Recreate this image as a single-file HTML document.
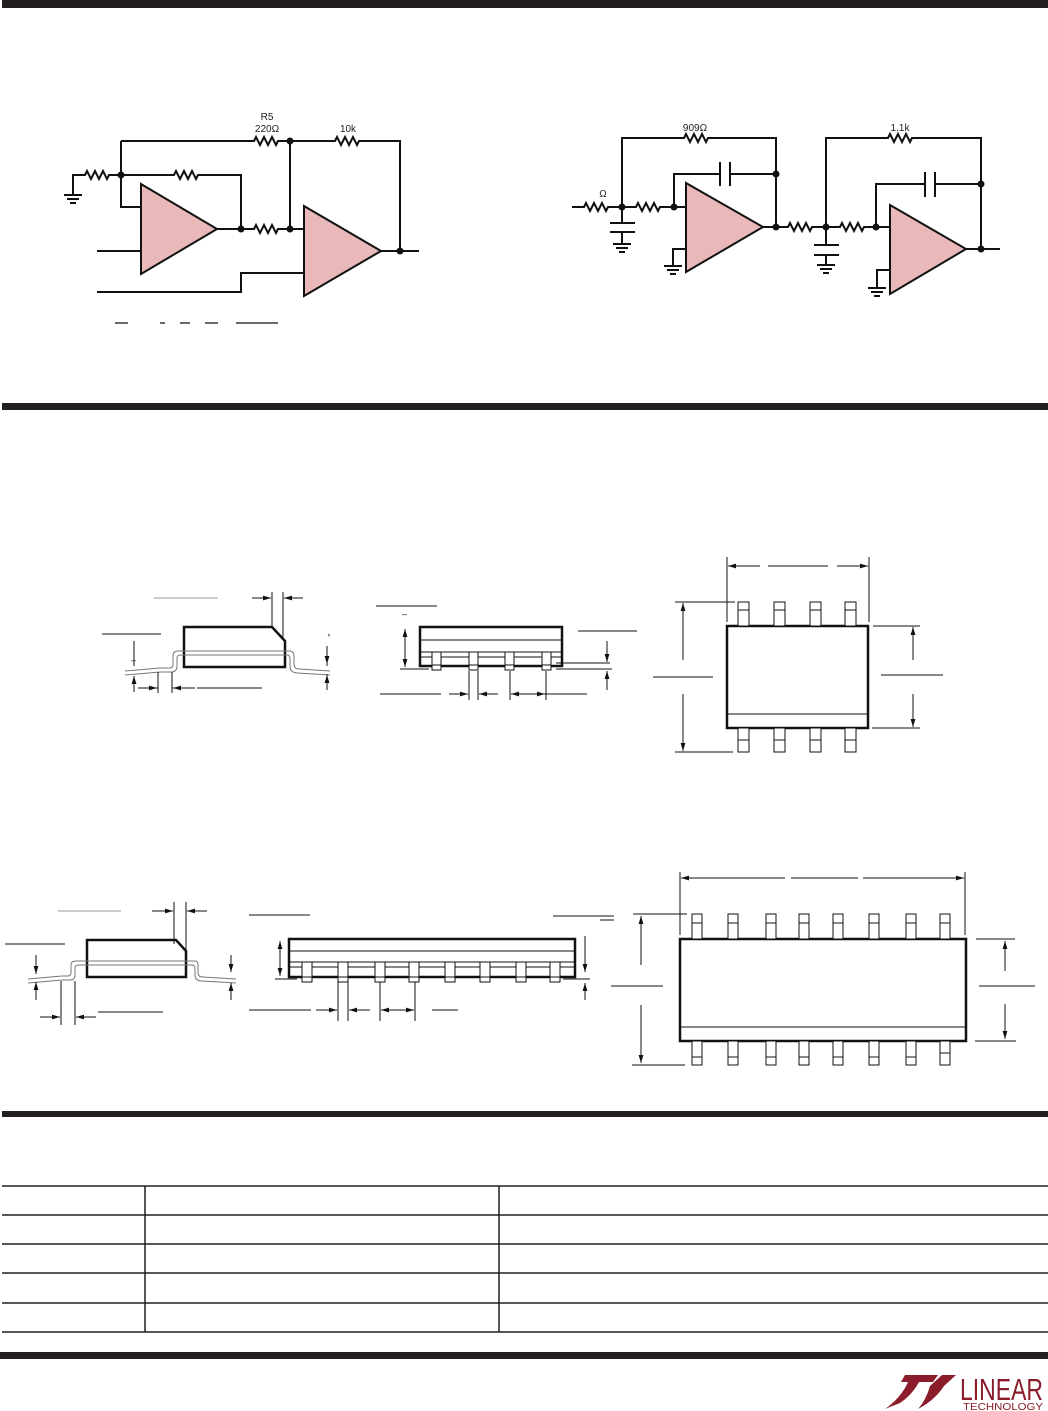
<!DOCTYPE html>
<html><head><meta charset="utf-8"><style>
html,body{margin:0;padding:0;background:#fff}
svg{display:block}
text{font-family:"Liberation Sans",sans-serif;fill:#222}
</style></head><body>
<svg width="1048" height="1411" viewBox="0 0 1048 1411" xmlns="http://www.w3.org/2000/svg">
<defs>
<marker id="a" viewBox="0 0 10 10" refX="10" refY="5" markerWidth="8" markerHeight="8" orient="auto-start-reverse"><path d="M0 2 L10 5 L0 8 z" fill="#111"/></marker>
</defs>
<!-- bars -->
<rect x="2" y="0" width="1046" height="8" fill="#231f20"/>
<rect x="2" y="403" width="1046" height="7" fill="#231f20"/>
<rect x="2" y="1111" width="1046" height="6" fill="#231f20"/>
<rect x="0" y="1352" width="1048" height="7" fill="#231f20"/>

<!-- Circuit 1 -->
<g stroke="#111" stroke-width="2" fill="none">
<path d="M121 141 H254 l2 -4 l4 8 l4 -8 l4 8 l4 -8 l4 8 l2 -4 H335 l2 -4 l4 8 l4 -8 l4 8 l4 -8 l4 8 l2 -4 H400 V251"/>
<path d="M73 194 V175 H85 l2 -4 l4 8 l4 -8 l4 8 l4 -8 l4 8 l2 -4 H174 l2 -4 l4 8 l4 -8 l4 8 l4 -8 l4 8 l2 -4 H241 V229"/>
<path d="M64 195 h18 M67 199 h12 M70 203 h6"/>
<path d="M121 141 V207 H141"/>
<path d="M217 229 H254 l2 -4 l4 8 l4 -8 l4 8 l4 -8 l4 8 l2 -4 H304"/>
<path d="M290 141 V229"/>
<path d="M97 251 H141"/>
<path d="M97 292 H241 V273 H304"/>
<path d="M381 251 H419"/>
</g>
<polygon points="141,184 141,274 217,229" fill="#e8b9b8" stroke="#111" stroke-width="2"/>
<polygon points="304,206 304,296 381,251" fill="#e8b9b8" stroke="#111" stroke-width="2"/>
<g fill="#111"><circle cx="121" cy="175" r="3.5"/><circle cx="290" cy="141" r="3.5"/><circle cx="241" cy="229" r="3.5"/><circle cx="290" cy="229" r="3.5"/><circle cx="400" cy="251" r="3.5"/></g>
<g stroke="#111" stroke-width="1.2"><path d="M115 323h13 M160 323h5 M180 323h10 M205 323h13 M236 323h42"/></g>
<text x="267" y="120" font-size="10" text-anchor="middle">R5</text>
<text x="267" y="132" font-size="10" text-anchor="middle">220Ω</text>
<text x="348" y="132" font-size="10" text-anchor="middle">10k</text>

<!-- Circuit 2 -->
<g stroke="#111" stroke-width="2" fill="none">
<path d="M572 207 H584 l2 -4 l4 8 l4 -8 l4 8 l4 -8 l4 8 l2 -4 H636 l2 -4 l4 8 l4 -8 l4 8 l4 -8 l4 8 l2 -4 H686"/>
<path d="M622 207 V138 H684 l2 -4 l4 8 l4 -8 l4 8 l4 -8 l4 8 l2 -4 H776 V227"/>
<path d="M622 207 V223 M610 223 h25 M610 232 h25 M622 232 V244 M613 244 h18 M616 248 h12 M619 252 h6"/>
<path d="M674 207 V174 H720 M720 162 V186 M730 162 V186 M730 174 H776"/>
<path d="M763 227 H788 l2 -4 l4 8 l4 -8 l4 8 l4 -8 l4 8 l2 -4 H840 l2 -4 l4 8 l4 -8 l4 8 l4 -8 l4 8 l2 -4 H890"/>
<path d="M686 249 H673 V266 M664 266 h18 M667 270 h12 M670 274 h6"/>
<path d="M826 227 V138 H888 l2 -4 l4 8 l4 -8 l4 8 l4 -8 l4 8 l2 -4 H981 V249"/>
<path d="M826 227 V245 M814 245 h25 M814 255 h25 M826 255 V265 M817 265 h18 M820 269 h12 M823 273 h6"/>
<path d="M876 227 V184 H925 M925 172 V197 M935 172 V197 M935 184 H981"/>
<path d="M966 249 H1000"/>
<path d="M890 270 H877 V288 M868 288 h18 M871 292 h12 M874 296 h6"/>
</g>
<polygon points="686,183 686,272 763,227" fill="#e8b9b8" stroke="#111" stroke-width="2"/>
<polygon points="890,205 890,294 966,249" fill="#e8b9b8" stroke="#111" stroke-width="2"/>
<g fill="#111"><circle cx="622" cy="207" r="3.5"/><circle cx="674" cy="207" r="3.5"/><circle cx="776" cy="174" r="3.5"/><circle cx="776" cy="227" r="3.5"/><circle cx="826" cy="227" r="3.5"/><circle cx="876" cy="227" r="3.5"/><circle cx="981" cy="184" r="3.5"/><circle cx="981" cy="249" r="3.5"/></g>
<text x="603" y="197" font-size="10" text-anchor="middle">Ω</text>
<text x="695" y="131" font-size="10" text-anchor="middle">909Ω</text>
<text x="900" y="131" font-size="10" text-anchor="middle">1.1k</text>

<!-- SO-8 side view 1 -->
<g fill="none" stroke="#111" stroke-width="1">
<path d="M154 598 H218" stroke="#999"/>
<path d="M184 627 H272 L285 641 V667 H184 Z" stroke-width="2.5"/>
<path d="M125 671 L160 668 H170 Q173 668 173 664 V656 Q173 651 178 651 H290 Q294 651 294 656 V664 Q294 669 299 669 L330 671 M125 675 L160 672 H171 Q177 672 177 666 V658 Q177 655 181 655 H287 Q290 655 290 659 V666 Q290 673 298 673 L330 675" stroke="#777"/>
<path d="M102 634 H161 M134 641 V666 M134 692 V676" />
<path d="M134 645 V664 M134 688 V676" marker-end="url(#a)"/>
<path d="M158 672 V693 M172 672 V693 M138 688 H158 M195 688 H172" />
<path d="M140 688 H157" marker-end="url(#a)"/><path d="M192 688 H173" marker-end="url(#a)"/>
<path d="M197 688 H262"/>
<path d="M272 592 V628 M283 592 V640"/>
<path d="M252 598 H271" marker-end="url(#a)"/><path d="M303 598 H284" marker-end="url(#a)"/>
<path d="M327 646 V666 M327 690 V674"/>
<path d="M327 648 V664" marker-end="url(#a)"/><path d="M327 688 V675" marker-end="url(#a)"/>
</g>
<text x="329" y="640" font-size="8" text-anchor="middle" fill="#777">°</text>
<text x="131" y="663" font-size="9">–</text>

<!-- SO-8 side view 2 -->
<g fill="none" stroke="#111" stroke-width="1">
<rect x="420" y="627" width="142" height="39" stroke-width="2.5"/>
<path d="M420 640 H562 M420 652 H562 M420 657 H562"/>
<g fill="#fff"><rect x="432" y="652" width="9" height="18"/><rect x="469" y="652" width="9" height="18"/><rect x="505" y="652" width="9" height="18"/><rect x="542" y="652" width="9" height="18"/></g>
<path d="M432 665 h9 M469 665 h9 M505 665 h9 M542 665 h9"/>
<path d="M376 606 H437 M400 669 H429"/>
<path d="M405 631 V667" marker-end="url(#a)"/><path d="M405 665 V629" marker-end="url(#a)"/>
<path d="M578 631 H637 M556 663 H610 M556 669 H612"/>
<path d="M607 641 V662" marker-end="url(#a)"/><path d="M607 690 V671" marker-end="url(#a)"/>
<path d="M469 671 V700 M478 671 V700 M510 671 V700 M546 671 V700"/>
<path d="M380 694 H441 M538 694 H587"/>
<path d="M449 694 H468" marker-end="url(#a)"/><path d="M498 694 H479" marker-end="url(#a)"/>
<path d="M512 694 H545" marker-end="url(#a)"/><path d="M544 694 H511" marker-end="url(#a)"/>
</g>
<text x="402" y="617" font-size="9">–</text>

<!-- SO-8 top view -->
<g fill="none" stroke="#111" stroke-width="1">
<rect x="727" y="626" width="141" height="102" stroke-width="2.5"/>
<path d="M727 714 H868"/>
<g fill="#fff"><rect x="738" y="602" width="11" height="24"/><rect x="774" y="602" width="11" height="24"/><rect x="810" y="602" width="11" height="24"/><rect x="845" y="602" width="11" height="24"/>
<rect x="738" y="728" width="11" height="24"/><rect x="774" y="728" width="11" height="24"/><rect x="810" y="728" width="11" height="24"/><rect x="845" y="728" width="11" height="24"/></g>
<path d="M738 610 h11 M774 610 h11 M810 610 h11 M845 610 h11 M738 740 h11 M774 740 h11 M810 740 h11 M845 740 h11"/>
<path d="M727 557 V622 M869 557 V622"/>
<path d="M760 566 H728" marker-end="url(#a)"/><path d="M768 566 H828"/><path d="M837 566 H868" marker-end="url(#a)"/>
<path d="M675 602 H735 M675 752 H733 M653 677 H713"/>
<path d="M683 660 V603" marker-end="url(#a)"/><path d="M683 694 V751" marker-end="url(#a)"/>
<path d="M873 626 H920 M872 728 H920 M881 675 H943"/>
<path d="M913 660 V627" marker-end="url(#a)"/><path d="M913 694 V727" marker-end="url(#a)"/>
</g>

<!-- SO-16 side view 1 -->
<g fill="none" stroke="#111" stroke-width="1">
<path d="M58 911 H121" stroke="#999"/>
<path d="M87 940 H176 L186 951 V977 H87 Z" stroke-width="2.5"/>
<path d="M28 979 L62 976 H68 Q71 976 71 972 V965 Q71 961 76 961 H195 Q198 961 198 965 V973 Q198 977 203 977 L236 979 M28 983 L62 980 H70 Q75 980 75 975 V968 Q75 965 79 965 H192 Q195 965 195 969 V975 Q195 981 202 981 L236 983" stroke="#777"/>
<path d="M5 944 H65"/>
<path d="M36 955 V974" marker-end="url(#a)"/><path d="M36 1000 V982" marker-end="url(#a)"/>
<path d="M61 981 V1025 M75 981 V1025 M98 1012 H163"/>
<path d="M40 1017 H60" marker-end="url(#a)"/><path d="M96 1017 H76" marker-end="url(#a)"/>
<path d="M174 902 V944 M186 902 V958"/>
<path d="M152 911 H173" marker-end="url(#a)"/><path d="M207 911 H187" marker-end="url(#a)"/>
<path d="M231 955 V972" marker-end="url(#a)"/><path d="M231 1000 V983" marker-end="url(#a)"/>
</g>

<!-- SO-16 side view 2 -->
<g fill="none" stroke="#111" stroke-width="1">
<rect x="289" y="939" width="286" height="38" stroke-width="2.5"/>
<path d="M289 951 H575 M289 962 H575 M289 967 H575"/>
<g fill="#fff"><rect x="302" y="962" width="10" height="20"/><rect x="338" y="962" width="10" height="20"/><rect x="375" y="962" width="10" height="20"/><rect x="409" y="962" width="10" height="20"/><rect x="445" y="962" width="10" height="20"/><rect x="480" y="962" width="10" height="20"/><rect x="516" y="962" width="10" height="20"/><rect x="550" y="962" width="10" height="20"/></g>
<path d="M302 977h10 M338 977h10 M375 977h10 M409 977h10 M445 977h10 M480 977h10 M516 977h10 M550 977h10"/>
<path d="M249 915 H310 M553 916 H614 M275 979 H297"/>
<path d="M280 943 V976" marker-end="url(#a)"/><path d="M280 974 V941" marker-end="url(#a)"/>
<path d="M585 936 V972" marker-end="url(#a)"/><path d="M585 1000 V983" marker-end="url(#a)"/>
<path d="M563 979 H590"/>
<path d="M338 982 V1021 M348 982 V1021 M380 982 V1021 M415 982 V1021"/>
<path d="M249 1010 H311 M432 1010 H458"/>
<path d="M316 1010 H337" marker-end="url(#a)"/><path d="M370 1010 H349" marker-end="url(#a)"/>
<path d="M395 1010 H414" marker-end="url(#a)"/><path d="M400 1010 H381" marker-end="url(#a)"/>
</g>

<!-- SO-16 top view -->
<g fill="none" stroke="#111" stroke-width="1">
<rect x="680" y="939" width="286" height="102" stroke-width="2.5"/>
<path d="M680 1027 H966"/>
<g fill="#fff">
<rect x="692" y="914" width="10" height="25"/><rect x="728" y="914" width="10" height="25"/><rect x="766" y="914" width="10" height="25"/><rect x="799" y="914" width="10" height="25"/><rect x="833" y="914" width="10" height="25"/><rect x="869" y="914" width="10" height="25"/><rect x="906" y="914" width="10" height="25"/><rect x="940" y="914" width="10" height="25"/>
<rect x="692" y="1041" width="10" height="24"/><rect x="728" y="1041" width="10" height="24"/><rect x="766" y="1041" width="10" height="24"/><rect x="799" y="1041" width="10" height="24"/><rect x="833" y="1041" width="10" height="24"/><rect x="869" y="1041" width="10" height="24"/><rect x="906" y="1041" width="10" height="24"/><rect x="940" y="1041" width="10" height="24"/></g>
<path d="M692 923h10 M728 923h10 M766 923h10 M799 923h10 M833 923h10 M869 923h10 M906 923h10 M940 923h10 M692 1057h10 M728 1057h10 M766 1057h10 M799 1057h10 M833 1057h10 M869 1057h10 M906 1057h10 M940 1053h10"/>
<path d="M680 872 V935 M965 872 V935"/>
<path d="M785 878 H681" marker-end="url(#a)"/><path d="M791 878 H858"/><path d="M863 878 H964" marker-end="url(#a)"/>
<path d="M633 914 H687 M632 1065 H685 M611 986 H663 M600 920 H614"/>
<path d="M641 965 V916" marker-end="url(#a)"/><path d="M641 1005 V1063" marker-end="url(#a)"/>
<path d="M976 939 H1015 M975 1041 H1016 M979 986 H1035"/>
<path d="M1005 971 V941" marker-end="url(#a)"/><path d="M1005 1004 V1039" marker-end="url(#a)"/>
</g>

<!-- table -->
<g stroke="#231f20" stroke-width="1.5">
<path d="M2 1186 H1048 M2 1215 H1048 M2 1244 H1048 M2 1273 H1048 M2 1303 H1048 M2 1332 H1048"/>
<path d="M145 1186 V1332 M499 1186 V1332"/>
</g>

<!-- logo -->
<g fill="#8a1c2b">
<path d="M905 1375 H938 L933 1382 H919 Q912 1395 900 1403 L885 1409 Q898 1400 905 1388 L908 1382 H901 Z"/>
<path d="M930 1386 L942 1375 H956 L944 1386 Q935 1400 918 1409 Q926 1400 930 1386 Z"/>
</g>
<text x="960" y="1400" font-size="31" fill="#8a1c2b" style="fill:#8a1c2b;font-family:'Liberation Sans Narrow','Liberation Sans',sans-serif" textLength="83" lengthAdjust="spacingAndGlyphs">LINEAR</text>
<text x="963" y="1410" font-size="10" style="fill:#8a1c2b" textLength="80" lengthAdjust="spacingAndGlyphs">TECHNOLOGY</text>
</svg>
</body></html>
